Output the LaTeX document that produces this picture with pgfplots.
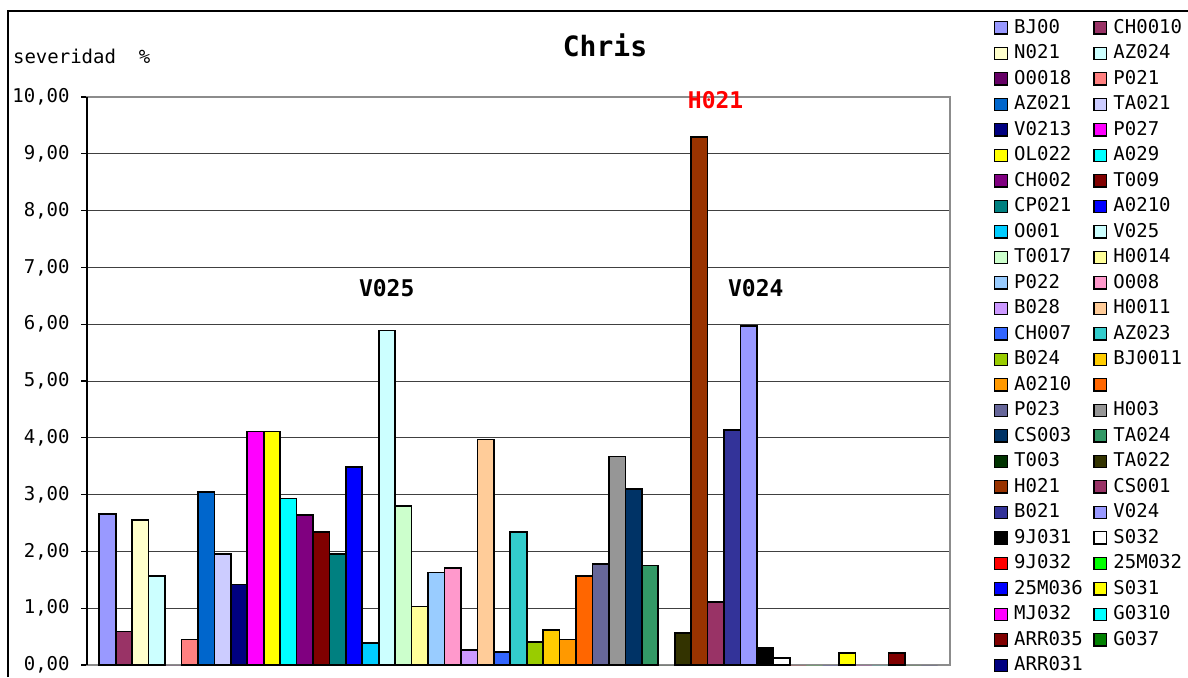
\documentclass[border=0pt]{standalone}
\usepackage{pgfplots}
\pgfplotsset{compat=1.18}
\usepackage{fontspec}
\newfontfamily\monofont{DejaVu Sans Mono}

% Excel palette, one colour per series
\definecolor{c01}{HTML}{9999FF}\definecolor{c02}{HTML}{993366}
\definecolor{c03}{HTML}{FFFFCC}\definecolor{c04}{HTML}{CCFFFF}
\definecolor{c05}{HTML}{660066}\definecolor{c06}{HTML}{FF8080}
\definecolor{c07}{HTML}{0066CC}\definecolor{c08}{HTML}{CCCCFF}
\definecolor{c09}{HTML}{000080}\definecolor{c10}{HTML}{FF00FF}
\definecolor{c11}{HTML}{FFFF00}\definecolor{c12}{HTML}{00FFFF}
\definecolor{c13}{HTML}{800080}\definecolor{c14}{HTML}{800000}
\definecolor{c15}{HTML}{008080}\definecolor{c16}{HTML}{0000FF}
\definecolor{c17}{HTML}{00CCFF}\definecolor{c18}{HTML}{CCFFFF}
\definecolor{c19}{HTML}{CCFFCC}\definecolor{c20}{HTML}{FFFF99}
\definecolor{c21}{HTML}{99CCFF}\definecolor{c22}{HTML}{FF99CC}
\definecolor{c23}{HTML}{CC99FF}\definecolor{c24}{HTML}{FFCC99}
\definecolor{c25}{HTML}{3366FF}\definecolor{c26}{HTML}{33CCCC}
\definecolor{c27}{HTML}{99CC00}\definecolor{c28}{HTML}{FFCC00}
\definecolor{c29}{HTML}{FF9900}\definecolor{c30}{HTML}{FF6600}
\definecolor{c31}{HTML}{666699}\definecolor{c32}{HTML}{969696}
\definecolor{c33}{HTML}{003366}\definecolor{c34}{HTML}{339966}
\definecolor{c35}{HTML}{003300}\definecolor{c36}{HTML}{333300}
\definecolor{c37}{HTML}{993300}\definecolor{c38}{HTML}{993366}
\definecolor{c39}{HTML}{333399}\definecolor{c40}{HTML}{9999FF}
\definecolor{c41}{HTML}{000000}\definecolor{c42}{HTML}{FFFFFF}
\definecolor{c43}{HTML}{FF0000}\definecolor{c44}{HTML}{00FF00}
\definecolor{c45}{HTML}{0000FF}\definecolor{c46}{HTML}{FFFF00}
\definecolor{c47}{HTML}{FF00FF}\definecolor{c48}{HTML}{00FFFF}
\definecolor{c49}{HTML}{800000}\definecolor{c50}{HTML}{008000}
\definecolor{c51}{HTML}{000080}

\newcommand{\sbar}[3]{\addplot[fill=#1] coordinates {(0,#2)};\addlegendentry{#3}}
\newcommand{\zbar}[2]{\addplot[fill=#1,draw=none] coordinates {(0,0)};\addlegendentry{#2}}

\begin{document}
\begin{tikzpicture}[font=\monofont\fontsize{9.5}{11}\selectfont]
\begin{axis}[
    at={(43.5pt,6pt)}, anchor=south west,
    scale only axis, width=431.5pt, height=284pt,
    ybar=0pt, bar width=8.22pt,
    xmin=-0.5, xmax=0.5, ymin=0, ymax=10,
    xtick=\empty, ytick={0,1,...,10},
    ytick pos=left, tick align=outside, major tick length=3pt,
    tick style={black, line width=0.6pt},
    ymajorgrids, grid style={black!75, line width=0.5pt},
    axis line style={black!45, line width=0.6pt},
    yticklabel style={inner sep=0pt, xshift=-5.5pt,
        /pgf/number format/.cd, fixed, fixed zerofill, precision=2,
        use comma, assume math mode=true},
    every axis plot/.append style={draw=black, line width=0.85pt},
    every axis plot post/.append style={legend image code/.code={
        \draw[##1,draw=black,line width=0.7pt] (0pt,-2.9pt) rectangle (6.4pt,3.3pt);}},
    legend columns=2, legend cell align=left,
    legend style={at={(axis description cs:1.051,1.1368)}, anchor=north west,
        draw=none, fill=none, inner sep=0pt, outer sep=0pt,
        row sep=3.75pt, column sep=0pt,
        nodes={inner sep=0pt, text height=7pt, text depth=2pt},
        /tikz/every odd column/.append style={column sep=3pt},
        /tikz/every even column/.append style={column sep=5.2pt}},
    after end axis/.code={\draw[black,line width=0.6pt] (rel axis cs:0,0) -- (rel axis cs:0,1);},
]
\sbar{c01}{2.66}{BJ00}
\sbar{c02}{0.59}{CH0010}
\sbar{c03}{2.55}{N021}
\sbar{c04}{1.57}{AZ024}
\zbar{c05}{O0018}
\sbar{c06}{0.45}{P021}
\sbar{c07}{3.05}{AZ021}
\sbar{c08}{1.95}{TA021}
\sbar{c09}{1.42}{V0213}
\sbar{c10}{4.11}{P027}
\sbar{c11}{4.11}{OL022}
\sbar{c12}{2.93}{A029}
\sbar{c13}{2.64}{CH002}
\sbar{c14}{2.34}{T009}
\sbar{c15}{1.95}{CP021}
\sbar{c16}{3.49}{A0210}
\sbar{c17}{0.39}{O001}
\sbar{c18}{5.89}{V025}
\sbar{c19}{2.80}{T0017}
\sbar{c20}{1.03}{H0014}
\sbar{c21}{1.63}{P022}
\sbar{c22}{1.71}{O008}
\sbar{c23}{0.27}{B028}
\sbar{c24}{3.97}{H0011}
\sbar{c25}{0.23}{CH007}
\sbar{c26}{2.34}{AZ023}
\sbar{c27}{0.41}{B024}
\sbar{c28}{0.62}{BJ0011}
\sbar{c29}{0.45}{A0210}
\sbar{c30}{1.57}{\mbox{}}
\sbar{c31}{1.78}{P023}
\sbar{c32}{3.67}{H003}
\sbar{c33}{3.10}{CS003}
\sbar{c34}{1.75}{TA024}
\zbar{c35}{T003}
\sbar{c36}{0.56}{TA022}
\sbar{c37}{9.30}{H021}
\sbar{c38}{1.11}{CS001}
\sbar{c39}{4.14}{B021}
\sbar{c40}{5.97}{V024}
\sbar{c41}{0.30}{9J031}
\sbar{c42}{0.12}{S032}
\zbar{c43}{9J032}
\zbar{c44}{25M032}
\zbar{c45}{25M036}
\sbar{c46}{0.21}{S031}
\zbar{c47}{MJ032}
\zbar{c48}{G0310}
\sbar{c49}{0.21}{ARR035}
\zbar{c50}{G037}
\zbar{c51}{ARR031}
\end{axis}

% chart frame (top and left edges; the rest is cut off)
\draw[black, line width=0.6pt] (4pt,0pt) -- (4pt,333pt) -- (594pt,333pt);

\node[anchor=base west, inner sep=0pt] at (6.35pt,307pt) {severidad\ \ \%};
\node[anchor=base, font=\monofont\bfseries\fontsize{14}{16}\selectfont] at (302.5pt,310.15pt) {Chris};
\node[anchor=base, font=\monofont\bfseries\fontsize{11.5}{13}\selectfont] at (193.35pt,190.15pt) {V025};
\node[anchor=base, font=\monofont\bfseries\fontsize{11.5}{13}\selectfont] at (377.9pt,190.15pt) {V024};
\node[anchor=base, red, font=\monofont\bfseries\fontsize{11.5}{13}\selectfont] at (357.8pt,284.35pt) {H021};

\pgfresetboundingbox
\path[use as bounding box] (0pt,0pt) rectangle (594pt,338.5pt);
\end{tikzpicture}
\end{document}
